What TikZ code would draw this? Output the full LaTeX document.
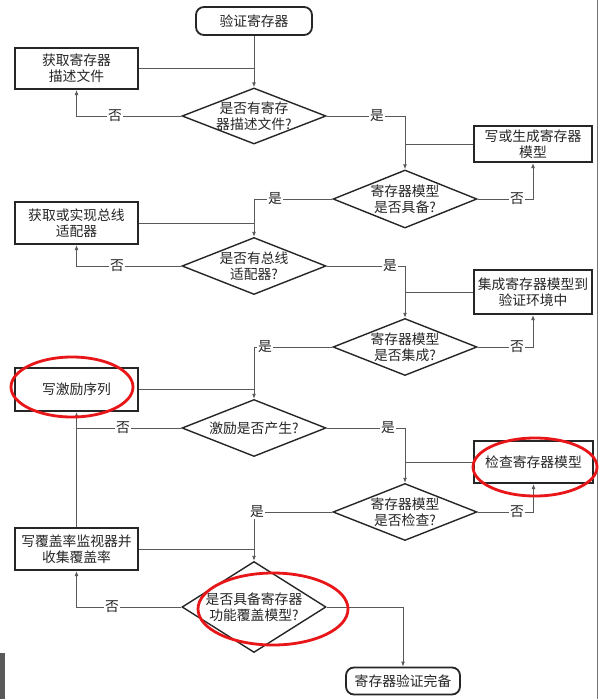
\documentclass[tikz,border=0pt]{standalone}
\usepackage{fontspec}
\newfontfamily\cjk{Noto Sans CJK SC}
\usetikzlibrary{shapes.geometric,arrows.meta}
\definecolor{annot}{RGB}{232,22,24}
\begin{document}
\begin{tikzpicture}[x=1pt,y=-1pt,
  txt/.style={font=\cjk\fontsize{13.8}{16}\selectfont, text=black!85, align=center},
  box/.style={txt, draw=black!85, line width=2.2pt, inner sep=0pt},
  term/.style={txt, draw=black!85, line width=1.8pt, rounded corners=8pt, inner sep=0pt},
  dia/.style={diamond, draw=black!85, line width=1.4pt, inner sep=0pt},
  conn/.style={draw=black!65, line width=0.9pt},
  arr/.style={conn, -{Latex[length=5pt,width=4pt]}},
  lbl/.style={txt, fill=white, inner sep=1pt},
  redring/.style={draw=annot, line width=2.8pt}
]
\useasboundingbox (0,0) rectangle (599,699);
\fill[white] (0,0) rectangle (599,699);

% nodes
\node[term, minimum width=116pt, minimum height=28pt] (start) at (254,21) {验证寄存器};
\node[box, minimum width=123pt, minimum height=41pt] (b1) at (76.5,68.5) {获取寄存器\\描述文件};
\node[dia, minimum width=144pt, minimum height=56pt] (d1) at (254,116) {};
\node[txt] (t1) at (d1.center) {是否有寄存\\器描述文件?};
\node[box, minimum width=118pt, minimum height=36pt] (b2) at (533,144) {写或生成寄存器\\模型};
\node[dia, minimum width=144pt, minimum height=58pt] (d2) at (405,199) {};
\node[txt] (t2) at (d2.center) {寄存器模型\\是否具备?};
\node[box, minimum width=123pt, minimum height=42pt] (b3) at (76.5,223) {获取或实现总线\\适配器};
\node[dia, minimum width=144pt, minimum height=57pt] (d3) at (254,266) {};
\node[txt] (t3) at (d3.center) {是否有总线\\适配器?};
\node[box, minimum width=118pt, minimum height=44pt] (b4) at (533,292) {集成寄存器模型到\\验证环境中};
\node[dia, minimum width=144pt, minimum height=57pt] (d4) at (405,347) {};
\node[txt] (t4) at (d4.center) {寄存器模型\\是否集成?};
\node[box, minimum width=123pt, minimum height=43pt] (b5) at (76.5,389.5) {写激励序列};
\node[dia, minimum width=144pt, minimum height=57pt] (d5) at (254,428) {};
\node[txt] (t5) at (d5.center) {激励是否产生?};
\node[box, minimum width=119pt, minimum height=42pt] (b7) at (533.5,462) {检查寄存器模型};
\node[dia, minimum width=144pt, minimum height=57pt] (d6) at (405,512) {};
\node[txt] (t6) at (d6.center) {寄存器模型\\是否检查?};
\node[box, minimum width=123pt, minimum height=42pt] (b6) at (76.5,549) {写覆盖率监视器并\\收集覆盖率};
\node[dia, minimum width=144pt, minimum height=91pt] (d7) at (254,607) {};
\node[txt] (t7) at (d7.center) {是否具备寄存器\\功能覆盖模型?};
\node[term, minimum width=114pt, minimum height=27pt] (end) at (403,681) {寄存器验证完备};

% connectors
\draw[arr] (start.south) -- (d1.north);
\draw[conn] (b1.east) -- (b1.east -| start.south);
\draw[arr] (d1.west) -- (d1.west -| b1.south) -- (b1.south);
\draw[arr] (d1.east) -- (d1.east -| d2.north) -- (d2.north);
\draw[conn] (b2.west) -- (b2.west -| d2.north);
\draw[arr] (d2.east) -- (d2.east -| b2.south) -- (b2.south);
\draw[arr] (d2.west) -- (d2.west -| d3.north) -- (d3.north);
\draw[conn] (b3.east) -- (b3.east -| d3.north);
\draw[arr] (d3.west) -- (d3.west -| b3.south) -- (b3.south);
\draw[arr] (d3.east) -- (d3.east -| d4.north) -- (d4.north);
\draw[conn] (b4.west) -- (b4.west -| d4.north);
\draw[arr] (d4.east) -- (d4.east -| b4.south) -- (b4.south);
\draw[arr] (d4.west) -- (d4.west -| d5.north) -- (d5.north);
\draw[conn] (b5.east) -- (b5.east -| d5.north);
\draw[conn] (d5.west) -- (d5.west -| b5.south);
\draw[arr] (b6.north) -- (b5.south);
\draw[arr] (d5.east) -- (d5.east -| d6.north) -- (d6.north);
\draw[conn] (b7.west) -- (b7.west -| d6.north);
\draw[arr] (d6.east) -- (d6.east -| b7.south) -- (b7.south);
\draw[arr] (d6.west) -- (d6.west -| d7.north) -- (d7.north);
\draw[conn] (b6.east) -- (b6.east -| d7.north);
\draw[arr] (d7.west) -- (d7.west -| b6.south) -- (b6.south);
\draw[arr] (d7.east) -- (d7.east -| end.north) -- (end.north);

% labels
\node[lbl] (l1) at (115,116) {否};
\node[lbl] (l2) at (377,116) {是};
\node[lbl] (l3) at (517,199) {否};
\node[lbl] (l4) at (275,199) {是};
\node[lbl] (l5) at (117,266) {否};
\node[lbl] (l6) at (390,266) {是};
\node[lbl] (l7) at (517,347) {否};
\node[lbl] (l8) at (265,347) {是};
\node[lbl] (l9) at (123,428) {否};
\node[lbl] (l10) at (388,428) {是};
\node[lbl] (l11) at (517,512) {否};
\node[lbl] (l12) at (257,512) {是};
\node[lbl] (l13) at (112,607) {否};

% scan edges
\draw[black!55, line width=0.8pt] (597,0) -- (597,699);
\fill[black!65] (0,653) rectangle (5,699);

% red annotation ellipses
\draw[redring] (72,387) ellipse [x radius=61pt, y radius=30pt];
\draw[redring] (535,467) ellipse [x radius=62pt, y radius=29pt];
\draw[redring] (273,609) ellipse [x radius=75pt, y radius=36pt];
\end{tikzpicture}
\end{document}
